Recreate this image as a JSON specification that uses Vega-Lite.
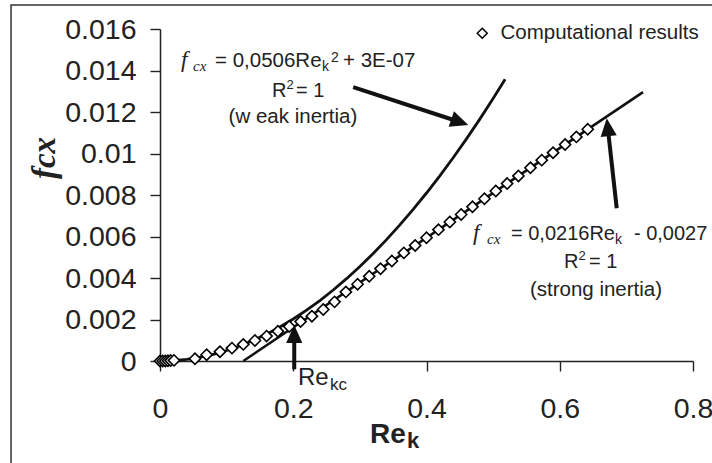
{
  "$schema": "https://vega.github.io/schema/vega-lite/v6.json",
  "width": 533,
  "height": 332,
  "autosize": {"type": "none"},
  "padding": {"left": 160, "top": 29, "right": 19, "bottom": 102},
  "background": "white",
  "config": {
    "view": {"stroke": null},
    "font": "Liberation Sans",
    "axis": {"grid": false, "domainColor": "#222", "domainWidth": 1.5, "tickColor": "#222", "tickWidth": 1.4, "tickSize": 10, "labelColor": "#222", "labelFont": "Liberation Sans", "labelFontSize": 28.5, "labelFlush": false, "labelOverlap": false, "labelBound": false, "title": null},
    "legend": {"orient": "none", "legendX": 312, "legendY": -6, "title": null, "padding": 0, "symbolType": "diamond", "symbolSize": 100, "labelFontSize": 20.5, "labelFont": "Liberation Sans", "labelColor": "#222", "labelOffset": 8, "labelLimit": 0}
  },
  "datasets": {
    "one": [{"n": 1}],
    "results": [
      {"Re": 0, "f": 0, "series": "Computational results"},
      {"Re": 0.004, "f": 0, "series": "Computational results"},
      {"Re": 0.008, "f": 0, "series": "Computational results"},
      {"Re": 0.012, "f": 0.00001, "series": "Computational results"},
      {"Re": 0.016, "f": 0.00002, "series": "Computational results"},
      {"Re": 0.021, "f": 0.00003, "series": "Computational results"},
      {"Re": 0.0525, "f": 0.00011, "series": "Computational results"},
      {"Re": 0.07, "f": 0.0003, "series": "Computational results"},
      {"Re": 0.09, "f": 0.00045, "series": "Computational results"},
      {"Re": 0.108, "f": 0.00062, "series": "Computational results"},
      {"Re": 0.125, "f": 0.0008, "series": "Computational results"},
      {"Re": 0.1425, "f": 0.00099, "series": "Computational results"},
      {"Re": 0.16, "f": 0.0012, "series": "Computational results"},
      {"Re": 0.177, "f": 0.00143, "series": "Computational results"},
      {"Re": 0.194, "f": 0.00166, "series": "Computational results"},
      {"Re": 0.211, "f": 0.0019, "series": "Computational results"},
      {"Re": 0.228, "f": 0.00216, "series": "Computational results"},
      {"Re": 0.245, "f": 0.00248, "series": "Computational results"},
      {"Re": 0.262, "f": 0.00285, "series": "Computational results"},
      {"Re": 0.279, "f": 0.00333, "series": "Computational results"},
      {"Re": 0.2965, "f": 0.0037, "series": "Computational results"},
      {"Re": 0.314, "f": 0.00408, "series": "Computational results"},
      {"Re": 0.331, "f": 0.00445, "series": "Computational results"},
      {"Re": 0.348, "f": 0.00482, "series": "Computational results"},
      {"Re": 0.366, "f": 0.00521, "series": "Computational results"},
      {"Re": 0.383, "f": 0.00557, "series": "Computational results"},
      {"Re": 0.4, "f": 0.00594, "series": "Computational results"},
      {"Re": 0.418, "f": 0.00633, "series": "Computational results"},
      {"Re": 0.435, "f": 0.0067, "series": "Computational results"},
      {"Re": 0.452, "f": 0.00706, "series": "Computational results"},
      {"Re": 0.469, "f": 0.00743, "series": "Computational results"},
      {"Re": 0.487, "f": 0.00782, "series": "Computational results"},
      {"Re": 0.504, "f": 0.00819, "series": "Computational results"},
      {"Re": 0.521, "f": 0.00855, "series": "Computational results"},
      {"Re": 0.538, "f": 0.00892, "series": "Computational results"},
      {"Re": 0.556, "f": 0.00931, "series": "Computational results"},
      {"Re": 0.573, "f": 0.00968, "series": "Computational results"},
      {"Re": 0.59, "f": 0.01004, "series": "Computational results"},
      {"Re": 0.608, "f": 0.01043, "series": "Computational results"},
      {"Re": 0.625, "f": 0.0108, "series": "Computational results"},
      {"Re": 0.642, "f": 0.01117, "series": "Computational results"}
    ],
    "weakFit": [
      {"Re": 0, "f": 0}, {"Re": 0.02, "f": 0.0000202}, {"Re": 0.04, "f": 0.000081}, {"Re": 0.06, "f": 0.000182},
      {"Re": 0.08, "f": 0.000324}, {"Re": 0.1, "f": 0.000506}, {"Re": 0.12, "f": 0.000729}, {"Re": 0.14, "f": 0.000992},
      {"Re": 0.16, "f": 0.001295}, {"Re": 0.18, "f": 0.001639}, {"Re": 0.2, "f": 0.002024}, {"Re": 0.22, "f": 0.002449},
      {"Re": 0.24, "f": 0.002915}, {"Re": 0.26, "f": 0.003421}, {"Re": 0.28, "f": 0.003967}, {"Re": 0.3, "f": 0.004554},
      {"Re": 0.32, "f": 0.005181}, {"Re": 0.34, "f": 0.005849}, {"Re": 0.36, "f": 0.006558}, {"Re": 0.38, "f": 0.007307},
      {"Re": 0.4, "f": 0.008096}, {"Re": 0.42, "f": 0.008926}, {"Re": 0.44, "f": 0.009796}, {"Re": 0.46, "f": 0.010707},
      {"Re": 0.48, "f": 0.011658}, {"Re": 0.5, "f": 0.01265}, {"Re": 0.518, "f": 0.013577}
    ],
    "strongFit": [
      {"Re": 0.125, "f": 0}, {"Re": 0.725, "f": 0.01296}
    ],
    "arrows": [
      {"Re": 0.29, "f": 0.0132, "Re2": 0.45, "f2": 0.011518},
      {"Re": 0.6855, "f": 0.007359, "Re2": 0.672, "f2": 0.011268},
      {"Re": 0.2015, "f": -0.0004, "Re2": 0.2015, "f2": 0.0013}
    ]
  },
  "layer": [
    {
      "data": {"name": "one"},
      "mark": {"type": "rect", "filled": false, "stroke": "#333", "strokeWidth": 1.5},
      "encoding": {
        "x": {"datum": -0.2236, "type": "quantitative", "scale": {"domain": [0, 0.8], "nice": false, "zero": false}, "axis": {"values": [0, 0.2, 0.4, 0.6, 0.8], "format": "~g", "labelPadding": 23}},
        "x2": {"datum": 0.95},
        "y": {"datum": 0.017157, "type": "quantitative", "scale": {"domain": [0, 0.016], "nice": false, "zero": false}, "axis": {"values": [0, 0.002, 0.004, 0.006, 0.008, 0.01, 0.012, 0.014, 0.016], "format": "~g", "labelPadding": 14}},
        "y2": {"datum": -0.007}
      }
    },
    {
      "data": {"name": "weakFit"},
      "mark": {"type": "line", "color": "#111", "strokeWidth": 2.8},
      "encoding": {"x": {"field": "Re", "type": "quantitative"}, "y": {"field": "f", "type": "quantitative"}}
    },
    {
      "data": {"name": "strongFit"},
      "mark": {"type": "line", "color": "#111", "strokeWidth": 2.6},
      "encoding": {"x": {"field": "Re", "type": "quantitative"}, "y": {"field": "f", "type": "quantitative"}}
    },
    {
      "data": {"name": "results"},
      "mark": {"type": "point", "filled": true, "fill": "white", "stroke": "black", "strokeWidth": 1.6, "size": 125, "opacity": 1},
      "encoding": {
        "x": {"field": "Re", "type": "quantitative"}, "y": {"field": "f", "type": "quantitative"},
        "shape": {"field": "series", "type": "nominal", "scale": {"range": ["diamond"]},
          "legend": {"encode": {"symbols": {"update": {"fill": {"value": "white"}, "stroke": {"value": "black"}, "strokeWidth": {"value": 1.5}, "opacity": {"value": 1}}}}}}
      }
    },
    {
      "data": {"name": "arrows"},
      "mark": {"type": "rule", "color": "#111", "strokeWidth": 4},
      "encoding": {
        "x": {"field": "Re", "type": "quantitative"}, "y": {"field": "f", "type": "quantitative"},
        "x2": {"field": "Re2"},
        "y2": {"field": "f2"}
      }
    },
    {
      "data": {"name": "one"},
      "mark": {"type": "point", "shape": "M0,-1L0.9,1L-0.9,1Z", "filled": true, "color": "#111", "size": 324, "opacity": 1, "angle": 109.5},
      "encoding": {"x": {"datum": 0.45, "type": "quantitative"}, "y": {"datum": 0.011518, "type": "quantitative"}}
    },
    {
      "data": {"name": "one"},
      "mark": {"type": "point", "shape": "M0,-1L0.9,1L-0.9,1Z", "filled": true, "color": "#111", "size": 324, "opacity": 1, "angle": 353.7},
      "encoding": {"x": {"datum": 0.672, "type": "quantitative"}, "y": {"datum": 0.011268, "type": "quantitative"}}
    },
    {
      "data": {"name": "one"},
      "mark": {"type": "point", "shape": "M0,-1L0.9,1L-0.9,1Z", "filled": true, "color": "#111", "size": 324, "opacity": 1, "angle": 0},
      "encoding": {"x": {"datum": 0.2015, "type": "quantitative"}, "y": {"datum": 0.0013, "type": "quantitative"}}
    },
    {
      "data": {"name": "one"},
      "mark": {"type": "text", "text": "fcx", "font": "Liberation Serif", "fontStyle": "italic", "fontWeight": "bold", "fontSize": 33, "angle": 270, "align": "center", "baseline": "middle", "color": "#222"},
      "encoding": {"x": {"datum": -0.1726, "type": "quantitative"}, "y": {"datum": 0.009783, "type": "quantitative"}}
    },
    {
      "data": {"name": "one"},
      "mark": {"type": "text", "text": "Re", "font": "Liberation Sans", "fontWeight": "bold", "fontSize": 28, "align": "left", "baseline": "alphabetic", "color": "#222"},
      "encoding": {"x": {"datum": 0.3152, "type": "quantitative"}, "y": {"datum": -0.003952, "type": "quantitative"}}
    },
    {
      "data": {"name": "one"},
      "mark": {"type": "text", "text": "k", "font": "Liberation Sans", "fontWeight": "bold", "fontSize": 22, "align": "left", "baseline": "alphabetic", "color": "#222"},
      "encoding": {"x": {"datum": 0.3707, "type": "quantitative"}, "y": {"datum": -0.004193, "type": "quantitative"}}
    },
    {
      "data": {"name": "one"},
      "mark": {"type": "text", "text": "Re", "font": "Liberation Sans", "fontSize": 24, "align": "left", "baseline": "alphabetic", "color": "#222"},
      "encoding": {"x": {"datum": 0.2071, "type": "quantitative"}, "y": {"datum": -0.001157, "type": "quantitative"}}
    },
    {
      "data": {"name": "one"},
      "mark": {"type": "text", "text": "kc", "font": "Liberation Sans", "fontSize": 17, "align": "left", "baseline": "alphabetic", "color": "#222"},
      "encoding": {"x": {"datum": 0.2552, "type": "quantitative"}, "y": {"datum": -0.001398, "type": "quantitative"}}
    },
    {
      "data": {"name": "one"},
      "mark": {"type": "text", "text": "f", "font": "Liberation Serif", "fontStyle": "italic", "fontSize": 23, "align": "left", "baseline": "alphabetic", "color": "#222"},
      "encoding": {"x": {"datum": 0.0315, "type": "quantitative"}, "y": {"datum": 0.014169, "type": "quantitative"}}
    },
    {
      "data": {"name": "one"},
      "mark": {"type": "text", "text": "cx", "font": "Liberation Serif", "fontStyle": "italic", "fontSize": 15, "align": "left", "baseline": "alphabetic", "color": "#222"},
      "encoding": {"x": {"datum": 0.0495, "type": "quantitative"}, "y": {"datum": 0.013976, "type": "quantitative"}}
    },
    {
      "data": {"name": "one"},
      "mark": {"type": "text", "text": "= 0,0506Re", "font": "Liberation Sans", "fontSize": 20.5, "align": "left", "baseline": "alphabetic", "color": "#222"},
      "encoding": {"x": {"datum": 0.0825, "type": "quantitative"}, "y": {"datum": 0.014169, "type": "quantitative"}}
    },
    {
      "data": {"name": "one"},
      "mark": {"type": "text", "text": "k", "font": "Liberation Sans", "fontSize": 14, "align": "left", "baseline": "alphabetic", "color": "#222"},
      "encoding": {"x": {"datum": 0.2431, "type": "quantitative"}, "y": {"datum": 0.013976, "type": "quantitative"}}
    },
    {
      "data": {"name": "one"},
      "mark": {"type": "text", "text": "2", "font": "Liberation Sans", "fontSize": 14, "align": "left", "baseline": "alphabetic", "color": "#222"},
      "encoding": {"x": {"datum": 0.2567, "type": "quantitative"}, "y": {"datum": 0.014408, "type": "quantitative"}}
    },
    {
      "data": {"name": "one"},
      "mark": {"type": "text", "text": "+ 3E-07", "font": "Liberation Sans", "fontSize": 20.5, "align": "left", "baseline": "alphabetic", "color": "#222"},
      "encoding": {"x": {"datum": 0.2747, "type": "quantitative"}, "y": {"datum": 0.014169, "type": "quantitative"}}
    },
    {
      "data": {"name": "one"},
      "mark": {"type": "text", "text": "R", "font": "Liberation Sans", "fontSize": 20, "align": "left", "baseline": "alphabetic", "color": "#222"},
      "encoding": {"x": {"datum": 0.1681, "type": "quantitative"}, "y": {"datum": 0.012723, "type": "quantitative"}}
    },
    {
      "data": {"name": "one"},
      "mark": {"type": "text", "text": "2", "font": "Liberation Sans", "fontSize": 13, "align": "left", "baseline": "alphabetic", "color": "#222"},
      "encoding": {"x": {"datum": 0.1898, "type": "quantitative"}, "y": {"datum": 0.013109, "type": "quantitative"}}
    },
    {
      "data": {"name": "one"},
      "mark": {"type": "text", "text": "= 1", "font": "Liberation Sans", "fontSize": 20, "align": "left", "baseline": "alphabetic", "color": "#222"},
      "encoding": {"x": {"datum": 0.2041, "type": "quantitative"}, "y": {"datum": 0.012723, "type": "quantitative"}}
    },
    {
      "data": {"name": "one"},
      "mark": {"type": "text", "text": "(w eak inertia)", "font": "Liberation Sans", "fontSize": 20.5, "align": "center", "baseline": "alphabetic", "color": "#222"},
      "encoding": {"x": {"datum": 0.1996, "type": "quantitative"}, "y": {"datum": 0.01147, "type": "quantitative"}}
    },
    {
      "data": {"name": "one"},
      "mark": {"type": "text", "text": "f", "font": "Liberation Serif", "fontStyle": "italic", "fontSize": 23, "align": "left", "baseline": "alphabetic", "color": "#222"},
      "encoding": {"x": {"datum": 0.4698, "type": "quantitative"}, "y": {"datum": 0.005831, "type": "quantitative"}}
    },
    {
      "data": {"name": "one"},
      "mark": {"type": "text", "text": "cx", "font": "Liberation Serif", "fontStyle": "italic", "fontSize": 15, "align": "left", "baseline": "alphabetic", "color": "#222"},
      "encoding": {"x": {"datum": 0.4908, "type": "quantitative"}, "y": {"datum": 0.005638, "type": "quantitative"}}
    },
    {
      "data": {"name": "one"},
      "mark": {"type": "text", "text": "= 0,0216Re", "font": "Liberation Sans", "fontSize": 20, "align": "left", "baseline": "alphabetic", "color": "#222"},
      "encoding": {"x": {"datum": 0.5268, "type": "quantitative"}, "y": {"datum": 0.005831, "type": "quantitative"}}
    },
    {
      "data": {"name": "one"},
      "mark": {"type": "text", "text": "k", "font": "Liberation Sans", "fontSize": 14, "align": "left", "baseline": "alphabetic", "color": "#222"},
      "encoding": {"x": {"datum": 0.6829, "type": "quantitative"}, "y": {"datum": 0.005638, "type": "quantitative"}}
    },
    {
      "data": {"name": "one"},
      "mark": {"type": "text", "text": "- 0,0027", "font": "Liberation Sans", "fontSize": 20, "align": "left", "baseline": "alphabetic", "color": "#222"},
      "encoding": {"x": {"datum": 0.7114, "type": "quantitative"}, "y": {"datum": 0.005831, "type": "quantitative"}}
    },
    {
      "data": {"name": "one"},
      "mark": {"type": "text", "text": "R", "font": "Liberation Sans", "fontSize": 20, "align": "left", "baseline": "alphabetic", "color": "#222"},
      "encoding": {"x": {"datum": 0.6064, "type": "quantitative"}, "y": {"datum": 0.00448, "type": "quantitative"}}
    },
    {
      "data": {"name": "one"},
      "mark": {"type": "text", "text": "2", "font": "Liberation Sans", "fontSize": 13, "align": "left", "baseline": "alphabetic", "color": "#222"},
      "encoding": {"x": {"datum": 0.6281, "type": "quantitative"}, "y": {"datum": 0.004866, "type": "quantitative"}}
    },
    {
      "data": {"name": "one"},
      "mark": {"type": "text", "text": "= 1", "font": "Liberation Sans", "fontSize": 20, "align": "left", "baseline": "alphabetic", "color": "#222"},
      "encoding": {"x": {"datum": 0.6439, "type": "quantitative"}, "y": {"datum": 0.00448, "type": "quantitative"}}
    },
    {
      "data": {"name": "one"},
      "mark": {"type": "text", "text": "(strong inertia)", "font": "Liberation Sans", "fontSize": 20.5, "align": "center", "baseline": "alphabetic", "color": "#222"},
      "encoding": {"x": {"datum": 0.6544, "type": "quantitative"}, "y": {"datum": 0.003132, "type": "quantitative"}}
    }
  ]
}
